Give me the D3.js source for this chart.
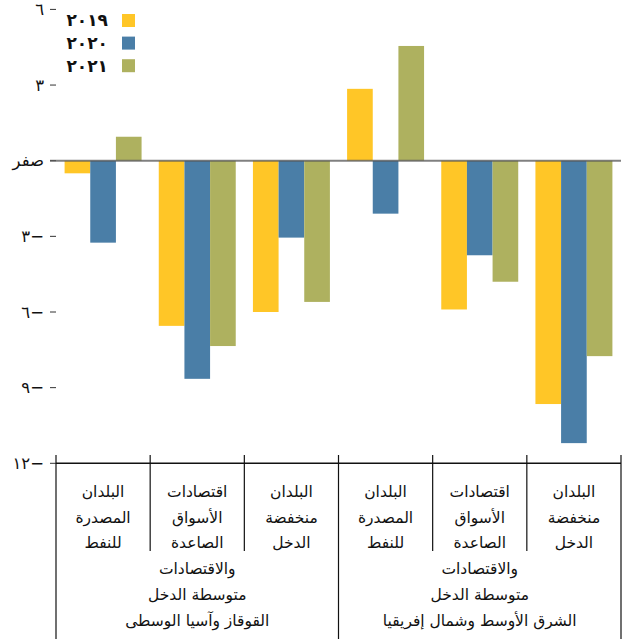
<!DOCTYPE html>
<html>
<head>
<meta charset="utf-8">
<script src="https://cdn.jsdelivr.net/npm/d3@7"></script>
<style>
  html, body { margin: 0; padding: 0; background: #fff; }
  svg { display: block; font-family: "DejaVu Sans", sans-serif; }
</style>
</head>
<body>
<div id="chart"></div>
<script>
// data
const categories = [
  ["البلدان", "المصدرة", "للنفط"],
  ["اقتصادات", "الأسواق", "الصاعدة", "والاقتصادات", "متوسطة الدخل"],
  ["البلدان", "منخفضة", "الدخل"],
  ["البلدان", "المصدرة", "للنفط"],
  ["اقتصادات", "الأسواق", "الصاعدة", "والاقتصادات", "متوسطة الدخل"],
  ["البلدان", "منخفضة", "الدخل"]
];
const regions = ["القوقاز وآسيا الوسطى", "الشرق الأوسط وشمال إفريقيا"];
const years = ["٢٠١٩", "٢٠٢٠", "٢٠٢١"];
const values2019 = [-0.5, -6.55, -6.0, 2.85, -5.9, -9.65];
const values2020 = [-3.25, -8.65, -3.05, -2.1, -3.75, -11.2];
const values2021 = [0.95, -7.35, -5.6, 4.55, -4.8, -7.75];
const yTicks = [6, 3, 0, -3, -6, -9, -12];
const yTickLabels = ["٦", "٣", "صفر", "٣−", "٦−", "٩−", "١٢−"];
const colors = ["#ffc627", "#4a7ea7", "#aeb15f"];

const series = [values2019, values2020, values2021];

const width = 622, height = 639;
const svg = d3.select("#chart").append("svg")
  .attr("width", width)
  .attr("height", height);

const x = d3.scaleBand()
  .domain(d3.range(categories.length))
  .range([56, 621]);

const xSub = d3.scaleBand()
  .domain(d3.range(years.length))
  .range([0, x.bandwidth()])
  .paddingOuter(0.335);

const y = d3.scaleLinear()
  .domain([-12, 6])
  .range([463.3, 9.4]);

// bars
categories.forEach((c, i) => {
  const g = svg.append("g").attr("transform", `translate(${x(i)},0)`);
  series.forEach((vals, s) => {
    const v = vals[i];
    g.append("rect")
      .attr("x", xSub(s))
      .attr("width", xSub.bandwidth())
      .attr("y", y(Math.max(0, v)))
      .attr("height", Math.abs(y(v) - y(0)))
      .attr("fill", colors[s]);
  });
});

// y axis (ticks + labels only)
const yAxis = svg.append("g");
yTicks.forEach((t, i) => {
  yAxis.append("line")
    .attr("x1", 50).attr("x2", 56)
    .attr("y1", y(t)).attr("y2", y(t))
    .attr("stroke", "#333").attr("stroke-width", 1);
  yAxis.append("text")
    .attr("x", 44)
    .attr("y", y(t))
    .attr("dy", "0.35em")
    .attr("text-anchor", "end")
    .attr("font-size", 16.5)
    .attr("fill", "#111")
    .text(yTickLabels[i]);
});

// zero line
svg.append("line")
  .attr("x1", 50).attr("x2", 621)
  .attr("y1", y(0)).attr("y2", y(0))
  .attr("stroke", "#555")
  .attr("stroke-opacity", 0.75)
  .attr("stroke-width", 2);

// bottom axis line and dividers
svg.append("line")
  .attr("x1", 56).attr("x2", 621)
  .attr("y1", y(-12)).attr("y2", y(-12))
  .attr("stroke", "#111").attr("stroke-width", 1.5);

d3.range(categories.length + 1).forEach(i => {
  const xx = i < categories.length ? x(i) : x(i - 1) + x.bandwidth();
  const outer = i % 3 === 0;
  svg.append("line")
    .attr("x1", xx).attr("x2", xx)
    .attr("y1", 455).attr("y2", outer ? height : 551)
    .attr("stroke", "#111").attr("stroke-width", 1.2);
});

// category labels
categories.forEach((lines, i) => {
  const t = svg.append("text")
    .attr("text-anchor", "middle")
    .attr("font-size", 15.5)
    .attr("fill", "#111");
  lines.forEach((ln, k) => {
    t.append("tspan")
      .attr("x", x(i) + x.bandwidth() / 2)
      .attr("y", 497 + k * 25.7)
      .text(ln);
  });
});

// region labels
regions.forEach((r, j) => {
  svg.append("text")
    .attr("x", x(j * 3) + x.bandwidth() * 1.5)
    .attr("y", 626)
    .attr("text-anchor", "middle")
    .attr("font-size", 15.5)
    .attr("fill", "#111")
    .text(r);
});

// legend
years.forEach((yr, s) => {
  const ly = 14 + s * 22.6;
  svg.append("rect")
    .attr("x", 122).attr("y", ly)
    .attr("width", 13).attr("height", 13)
    .attr("fill", colors[s]);
  svg.append("text")
    .attr("x", 108).attr("y", ly + 6.5)
    .attr("dy", "0.35em")
    .attr("text-anchor", "end")
    .attr("font-size", 17)
    .attr("font-weight", "bold")
    .attr("fill", "#111")
    .text(yr);
});
</script>
</body>
</html>
